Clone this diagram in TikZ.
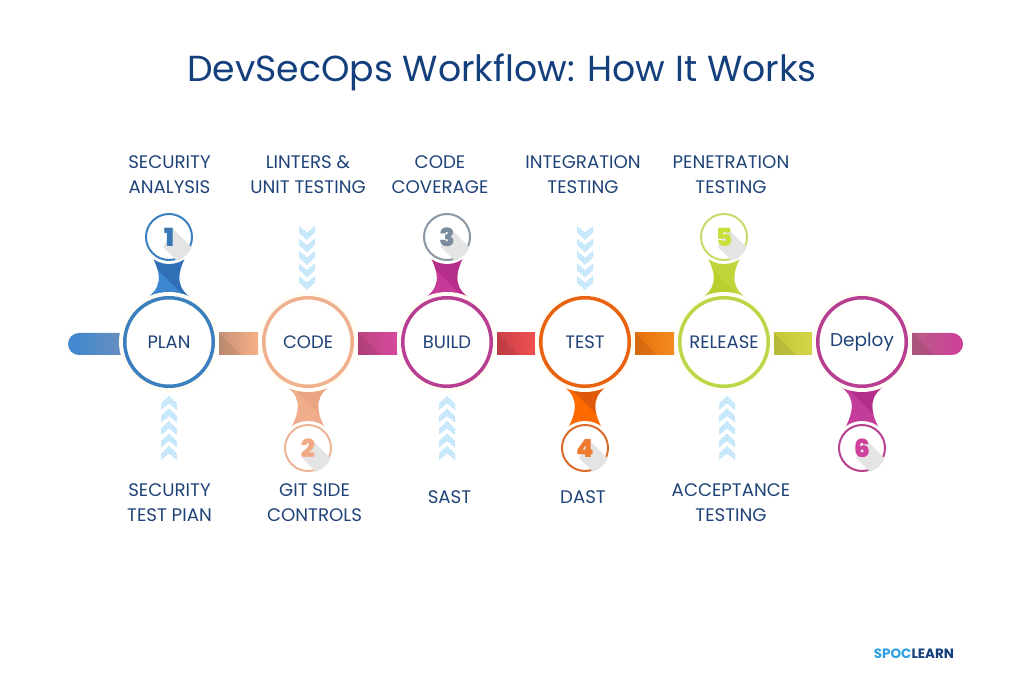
\documentclass[tikz,border=0pt]{standalone}
\usepackage{fontspec}
\setmainfont{Poppins}
\newfontfamily\digitfont{Poppins Black}
\usetikzlibrary{calc,backgrounds,patterns}
\definecolor{titleblue}{HTML}{143F7D}
\definecolor{textblue}{HTML}{1F4379}
\definecolor{logosky}{HTML}{2F9FE2}
\definecolor{shadowgray}{HTML}{E4E4E4}
\definecolor{haloc}{HTML}{FFFDF6}
\definecolor{chevfill}{HTML}{CFEBFC}
\definecolor{chevdot}{HTML}{A5DAFA}
\definecolor{pillblue}{HTML}{3C88D0}
\definecolor{pillgray}{HTML}{6A8FBE}
\definecolor{pillrose}{HTML}{B85D85}
\definecolor{pillpink}{HTML}{CE3F9B}
\tikzset{
	stepnode/.style={circle,line width=3.5pt,fill=white,minimum size=88.5pt,inner sep=0pt,text=textblue,font=\fontsize{18}{20}\selectfont},
	numnode/.style={circle,line width=2pt,fill=white,minimum size=46pt,inner sep=0pt},
	digitnode/.style={inner sep=0pt,font=\digitfont\fontsize{25}{25}\selectfont},
	tasklabel/.style={align=center,inner sep=0pt,text=textblue,font=\fontsize{18.2}{25}\selectfont},
	chevmark/.style={preaction={fill=chevfill},pattern=crosshatch dots,pattern color=chevdot}
}
\begin{document}
\begin{tikzpicture}[x=1pt,y=1pt,line join=round]
	\useasboundingbox (0,0) rectangle (1024,683);
	\node[text=titleblue,font=\fontsize{36.2}{40}\selectfont] (title) at (502,611) {DevSecOps Workflow: How It Works};
	% big circles
	\foreach \name/\x/\txt/\rc in {plan/169/PLAN/3B7FBF,code/308/CODE/EFB08E,build/447/BUILD/B83E92,test/585/TEST/E8620F,release/724/RELEASE/BBD748,deploy/862/{\raisebox{-2pt}{\fontsize{18.5}{20}\selectfont Deploy}}/B83E92}{
		\definecolor{ringc}{HTML}{\rc}
		\node[stepnode,draw=ringc] (\name) at (\x,341) {\txt};
	}
	% small circles with the number
	\foreach \name/\x/\y/\n/\rc/\dc in {plan/169/446/1/3B7FBF/3978B5,code/308/235/2/EDB597/F2A986,build/447/446/3/8A97A5/7A8BA0,test/585/235/4/D96A2B/EE7A30,release/724/446/5/C6DC6A/C8DF3C,deploy/862/235/6/B8408F/D1419C}{
		\definecolor{ringc}{HTML}{\rc}
		\definecolor{digitc}{HTML}{\dc}
		\node[numnode,draw=ringc] (\name num) at (\x,\y) {};
		\begin{scope}
			\clip (\name num) circle (25pt);
			\fill[shadowgray] ($(\name num)+(4,8)$)--++(32,-32)--++(-10,-18)--++(-32,32)--cycle;
		\end{scope}
		\node[digitnode,text=digitc] (\name digit) at (\name num) {\n};
	}
	\begin{scope}[on background layer]
		% bars between the big circles
		\coordinate (start) at (68,339);
		\coordinate (finish) at (963,339);
		\shade[left color=pillblue,right color=pillgray] ($(start)+(11,11)$) arc (90:270:11)--($(plan)+(-45,-13)$)--($(plan)+(-45,9)$)--cycle;
		\foreach \from/\to/\ca/\cb in {plan/code/C79478/F7AE85,code/build/BC4580/D6489C,build/test/CB4049/EE5050,test/release/E5700E/F48B1E,release/deploy/C3C83A/D3D548}{
			\definecolor{barl}{HTML}{\ca}
			\definecolor{barr}{HTML}{\cb}
			\shade[left color=barl,right color=barr] ($(\from)+(50,9)$) rectangle ($(\to)+(-50,-13)$);
			\fill[black,opacity=.07] ($(\from)+(50,9)$)--($(\from)+(72,-13)$)--($(\from)+(50,-13)$)--cycle;
		}
		\shade[left color=pillrose,right color=pillpink] ($(deploy)+(50,9)$)--($(finish)+(-11,11)$) arc (90:-90:11)--($(deploy)+(50,-13)$)--cycle;
		\fill[black,opacity=.07] ($(deploy)+(50,9)$)--($(deploy)+(72,-13)$)--($(deploy)+(50,-13)$)--cycle;
		% necks to the small circles
		\foreach \name/\s/\ca/\cb in {plan/1/2F6FB5/3C87D0,code/-1/EBA582/F0AD8B,build/1/B52F8A/C63A97,test/-1/DE5A0A/FF6A00,release/1/C1D33A/B9CF2E,deploy/-1/B32E8B/C43C9A}{
			\definecolor{neckur}{HTML}{\ca}
			\definecolor{neckll}{HTML}{\cb}
			\begin{scope}[shift={(\name)}]
				\clip (-27,\s*41) .. controls (-7,\s*52) and (-6,\s*66) .. (-18,\s*88)--(18,\s*88) .. controls (6,\s*66) and (7,\s*52) .. (27,\s*41)--cycle;
				\fill[neckll] (-40,\s*30) rectangle (40,\s*90);
				\fill[neckur] (-40,\s*61+40)--(40,\s*61+40)--(40,\s*61-40)--cycle;
			\end{scope}
		}
		% white rings round the circles
		\foreach \name in {plan,code,build,test,release,deploy}{
			\fill[haloc] (\name) circle (50pt);
			\fill[white] (\name num) circle (27pt);
		}
	\end{scope}
	% chevrons
	\foreach \cx/\cy/\d in {169/255/1,307/425/-1,447/255/1,585/425/-1,727/255/1}{
		\begin{scope}[shift={(\cx,\cy)},yscale=\d]
			\foreach \k in {-25,-12.5,0,12.5,25}{
				\path[chevmark] (0,\k+7)--(8,\k-.5)--(8,\k-7)--(0,\k-.5)--(-8,\k-7)--(-8,\k-.5)--cycle;
			}
		\end{scope}
	}
	% labels
	\node[tasklabel] (lab1) at (169.5,508) {SECURITY\\ANALYSIS};
	\node[tasklabel] (lab2) at (308,508) {LINTERS \&\\UNIT TESTING};
	\node[tasklabel] (lab3) at (440,508) {CODE\\COVERAGE};
	\node[tasklabel] (lab4) at (583,508) {INTEGRATION\\TESTING};
	\node[tasklabel] (lab5) at (731,508) {PENETRATION\\TESTING};
	\node[tasklabel] (lab6) at (169.5,180) {SECURITY\\TEST PIAN};
	\node[tasklabel] (lab7) at (314.5,180) {GIT SIDE\\CONTROLS};
	\node[tasklabel] (lab8) at (449.5,186) {SAST};
	\node[tasklabel] (lab9) at (583,186) {DAST};
	\node[tasklabel] (lab10) at (731,180) {ACCEPTANCE\\TESTING};
	\node[inner sep=0pt,font=\bfseries\fontsize{13.5}{14}\selectfont,text=titleblue] (logo) at (914,29) {\textcolor{logosky}{SPOC}LEARN};
\end{tikzpicture}
\end{document}
